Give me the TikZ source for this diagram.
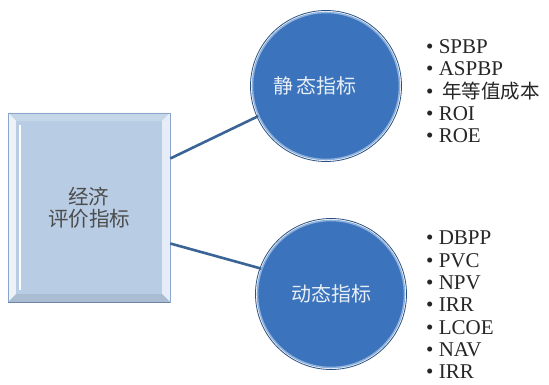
\documentclass[tikz,border=0pt]{standalone}
\usepackage{fontspec}
\setmainfont{Liberation Serif}
\newfontfamily\cjk{Noto Sans CJK SC}
\definecolor{kuang}{HTML}{B8CCE4}
\definecolor{kuangbian}{HTML}{8AA6CC}
\definecolor{qiu}{HTML}{3B74BC}
\definecolor{qiubian}{HTML}{8DB0DC}
\definecolor{xian}{HTML}{3A6496}

\tikzset{
	pingjia/.style={rectangle, draw=kuangbian, line width=0.6pt, minimum width=162pt, minimum height=189pt, align=center, font={\cjk\fontsize{20.5}{22}\selectfont}, text=black!70},
	ball/.style={circle, fill=qiu, draw=qiubian, line width=1.6pt, minimum size=147pt, inner sep=0pt, font={\cjk\fontsize{20}{22}\selectfont}, text=white!88!qiu},
	verbind/.style={draw=xian, line width=2.6pt},
	liebiao/.style={anchor=north west, align=left, inner sep=0pt, font={\fontsize{21}{22.3}\selectfont}, text=black!85}
}

\begin{document}
\begin{tikzpicture}[x=1pt,y=-1pt]
		\useasboundingbox[fill=white] (0,0) rectangle (549,385);
		% bevelled box
		\fill[kuang!80!white] (8,113) -- (170,113) -- (162,121) -- (16,121) -- cycle;
		\fill[white!75!kuang] (8,113) -- (16,121) -- (16,294) -- (8,302) -- cycle;
		\fill[white!65!kuang] (170,113) -- (170,302) -- (162,294) -- (162,121) -- cycle;
		\fill[kuang!92!black] (8,302) -- (170,302) -- (162,294) -- (16,294) -- cycle;
		\fill[kuang] (16,121) rectangle (162,294);
		\draw[white, line width=1.8pt] (20,125) -- (20,290);
		\node[pingjia] (zb) at (89,207.5) {经济\\评价指标};
		\draw[kuangbian!80!black, line width=1pt] (zb.south west) -- (zb.south east);
		% two circles
		\node[ball] (jt) at (326,86) {静\,态指标\hspace*{22pt}};
		\node[ball] (dt) at (331,294) {动态指标};
		\draw[qiu!70!black, line width=0.8pt] (jt.center) circle[radius=75.5];
		\draw[qiu!70!black, line width=0.8pt] (dt.center) circle[radius=75.5];
		\draw[verbind] ([yshift=49pt]zb.east) -- (jt.204);
		\draw[verbind] ([yshift=-36pt]zb.east) -- (dt.160);
		% lists
		\node[liebiao] (jtl) at (426,39.5) {\textbullet\ SPBP\\ \textbullet\ ASPBP\\ \textbullet\ \,{\cjk\fontsize{19.5}{22.3}\selectfont 年等值成本}\\ \textbullet\ ROI\\ \textbullet\ ROE};
		\node[liebiao] (dtl) at (426,231) {\textbullet\ DBPP\\ \textbullet\ PVC\\ \textbullet\ NPV\\ \textbullet\ IRR\\ \textbullet\ LCOE\\ \textbullet\ NAV\\ \textbullet\ IRR};
\end{tikzpicture}
\end{document}
